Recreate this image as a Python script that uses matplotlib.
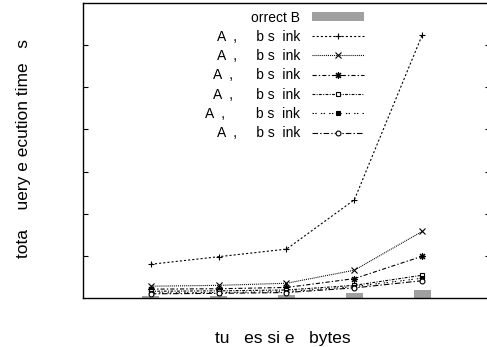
import matplotlib
matplotlib.use("Agg")
import matplotlib.pyplot as plt
import numpy as np

plt.rcParams['font.family'] = ['Liberation Sans', 'DejaVu Sans']
plt.rcParams['lines.scale_dashes'] = False

# tuple sizes (positions 1..5)
sizes = [1, 2, 3, 4, 5]
correct_bars = [0.05, 0.05, 0.06, 0.12, 0.20]
s1 = [0.80, 0.98, 1.16, 2.33, 6.24]
s2 = [0.28, 0.30, 0.35, 0.66, 1.58]
s3 = [0.21, 0.22, 0.25, 0.46, 0.99]
s4 = [0.16, 0.17, 0.19, 0.30, 0.54]
s5 = [0.12, 0.13, 0.15, 0.27, 0.47]
s6 = [0.10, 0.11, 0.13, 0.24, 0.41]

bar_label = "orrect B"
labels = ["A  ,     b s  ink",
          "A  ,     b s  ink",
          "A  ,      b s  ink",
          "A  ,      b s  ink",
          "A  ,        b s  ink",
          "A  ,     b s  ink"]

fig = plt.figure(figsize=(4.87, 3.47), dpi=100)
ax = fig.add_axes([83/487, 49/347, 407/487, 295/347])

bar = ax.bar(sizes, correct_bars, width=0.25, color='#a0a0a0', zorder=1,
             label=bar_label)

styles = [
    dict(marker='+', ms=5, mew=0.8, dashes=(1.5, 1.5)),
    dict(marker='x', ms=4, mew=0.8, dashes=(0.7, 0.7)),
    dict(marker=(8, 2, 0), ms=5, mew=0.8, dashes=(3, 1.5, 1, 1.5)),
    dict(marker='s', ms=3.5, mew=0.8, mfc='white', dashes=(2, 1, 0.7, 1)),
    dict(marker='s', ms=3.5, mew=0.8, dashes=(1, 1, 1, 3)),
    dict(marker='o', ms=3.5, mew=0.8, mfc='white', dashes=(4, 1.5, 1, 1.5)),
]
series = [s1, s2, s3, s4, s5, s6]
handles = [bar]
for vals, st, lab in zip(series, styles, labels):
    ln, = ax.plot(sizes, vals, color='black', lw=0.8, label=lab, zorder=3, **st)
    handles.append(ln)

ax.set_xlim(0, 6)
ax.set_ylim(0, 7)
ax.set_yticks([1, 2, 3, 4, 5, 6])
ax.set_xticks([])
ax.tick_params(axis='y', direction='in', length=3.6, width=0.8,
               left=True, right=True, labelleft=False)
for sp in ax.spines.values():
    sp.set_linewidth(1.0)

ax.legend(handles=handles, loc='upper right',
          bbox_to_anchor=(364/487, 1 - 10.5/347),
          bbox_transform=fig.transFigure, frameon=False, markerfirst=False,
          fontsize=10, handlelength=3.74, handletextpad=0.86, labelspacing=0.38,
          numpoints=1, borderpad=0, borderaxespad=0, handleheight=0.57)

fig.text(283/487, 1 - 338/347, "tu   es si e   bytes", ha='center',
         va='center', fontsize=12.5)
fig.text(24/487, 1 - 148/347, "tota    uery e ecution time   s", ha='center',
         va='center', rotation=90, fontsize=12.5)

fig.savefig("out.png", dpi=100)
